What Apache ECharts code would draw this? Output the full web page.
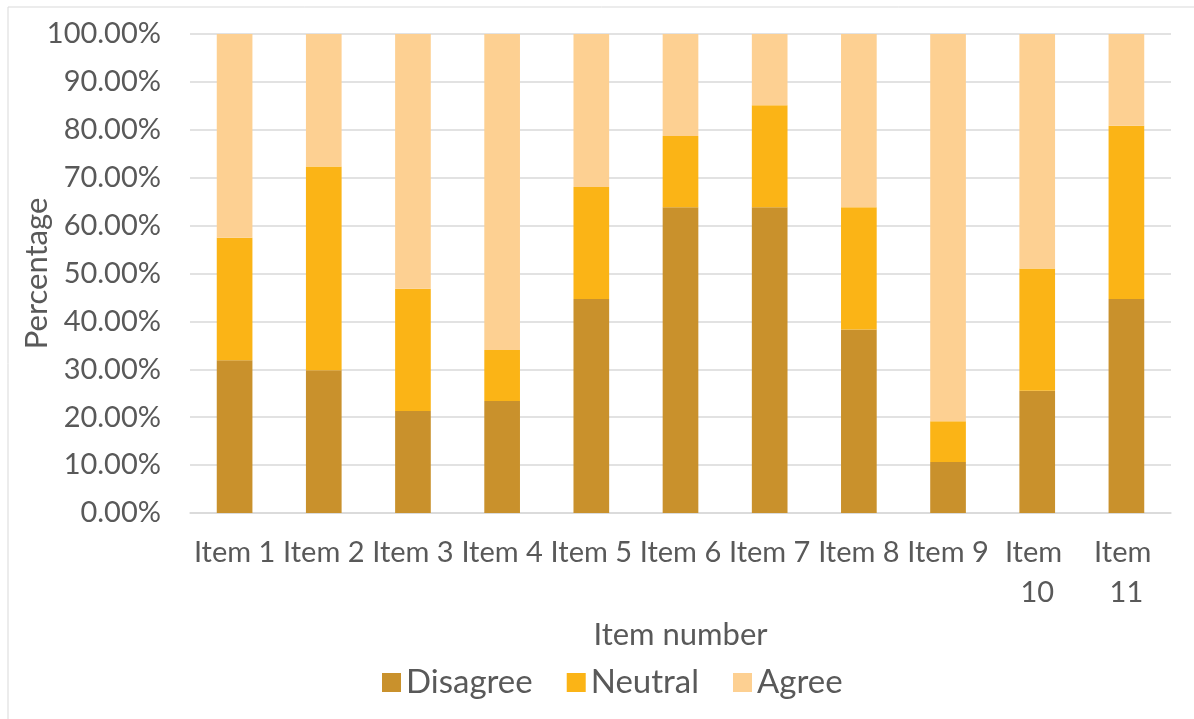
<!DOCTYPE html>
<html>
<head>
<meta charset="utf-8">
<script src="https://cdn.jsdelivr.net/npm/echarts@6/dist/echarts.min.js"></script>
<style>
html,body{margin:0;padding:0;background:#fff;}
#c{width:1194px;height:719px;}
</style>
</head>
<body>
<div id="c"></div>
<script>
const categories = ['Item 1','Item 2','Item 3','Item 4','Item 5','Item 6','Item 7','Item 8','Item 9','Item 10','Item 11'];
const disagree = [31.91, 29.79, 21.28, 23.40, 44.68, 63.83, 63.83, 38.30, 10.64, 25.53, 44.68];
const neutral  = [25.53, 42.55, 25.53, 10.64, 23.40, 14.89, 21.28, 25.53, 8.51, 25.53, 36.17];
const agree    = [42.56, 27.66, 53.19, 65.96, 31.92, 21.28, 14.89, 36.17, 80.85, 48.94, 19.15];
const seriesNames = ['Disagree','Neutral','Agree'];
const colors = ['#C9912C','#FBB416','#FDD092'];
const yTicks = {min: 0, max: 100, interval: 10};

const FONT = 'Lato';
const TXT = '#595959';

const chart = echarts.init(document.getElementById('c'), null, {renderer: 'canvas'});
const data = [disagree, neutral, agree];
chart.setOption({
  animation: false,
  backgroundColor: '#fff',
  textStyle: {fontFamily: FONT, color: TXT},
  grid: {left: 190, right: 23, top: 34, bottom: 206, containLabel: false},
  legend: {
    data: seriesNames,
    left: 377, top: 661,
    itemWidth: 19, itemHeight: 19, itemGap: 34,
    icon: 'rect',
    textStyle: {fontFamily: FONT, fontSize: 33, color: TXT}
  },
  xAxis: {
    type: 'category',
    data: categories,
    name: 'Item number',
    nameLocation: 'middle',
    nameGap: 106,
    nameTextStyle: {fontFamily: FONT, fontSize: 31, color: TXT},
    axisLine: {lineStyle: {color: '#D9D9D9', width: 1.5}},
    axisTick: {show: false},
    axisLabel: {
      interval: 0, fontFamily: FONT, fontSize: 29, color: TXT, margin: 20,
      width: 88, overflow: 'break', lineHeight: 40
    }
  },
  yAxis: {
    type: 'value',
    min: yTicks.min, max: yTicks.max, interval: yTicks.interval,
    name: 'Percentage',
    nameLocation: 'middle',
    nameGap: 138,
    nameMoveOverlap: false,
    nameTextStyle: {fontFamily: FONT, fontSize: 31, color: TXT},
    axisLine: {show: false},
    axisTick: {show: false},
    splitLine: {lineStyle: {color: '#D9D9D9', width: 1.5}},
    axisLabel: {
      fontFamily: FONT, fontSize: 29, color: TXT, margin: 29,
      formatter: v => v.toFixed(2) + '%'
    }
  },
  series: seriesNames.map((n, i) => ({
    name: n,
    type: 'bar',
    stack: 'total',
    barWidth: '40%',
    data: data[i],
    itemStyle: {color: colors[i]}
  })),
  graphic: [{
    type: 'rect',
    shape: {x: 8, y: 7, width: 1400, height: 900},
    style: {fill: 'none', stroke: '#D9D9D9', lineWidth: 1},
    silent: true
  }]
});
</script>
</body>
</html>
